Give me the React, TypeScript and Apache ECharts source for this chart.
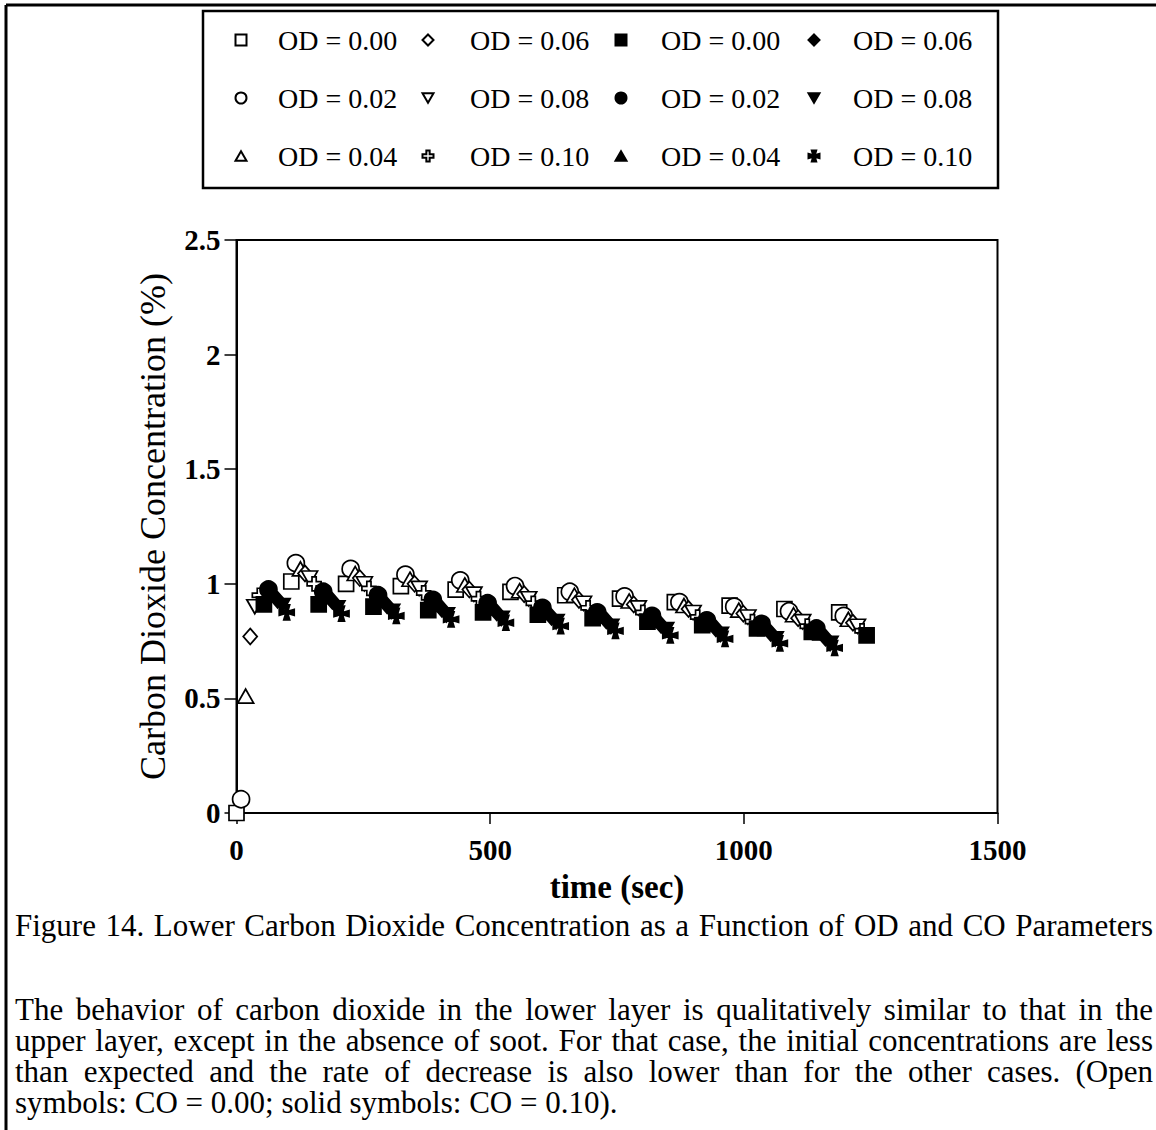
import React, { useEffect, useRef } from "react";
import * as echarts from "echarts";

// ---------- data ----------
const X_MIN = 0;
const X_MAX = 1500;
const X_STEP = 500;
const Y_MIN = 0;
const Y_MAX = 2.5;
const Y_STEP = 0.5;

// every series is sampled once per 108 s cycle, each with its own offset (s)
const CYCLE_STARTS = [0, 108, 216, 324, 432, 540, 648, 756, 864, 972, 1080, 1188];

// open symbols: CO = 0.00
const OPEN_SQUARE = [0.0, 1.01, 1.0, 0.99, 0.975, 0.965, 0.95, 0.935, 0.92, 0.905, 0.89, 0.875];
const OPEN_CIRCLE = [0.06, 1.09, 1.065, 1.04, 1.015, 0.99, 0.965, 0.945, 0.92, 0.9, 0.88, 0.86];
const OPEN_TRIANGLE = [0.51, 1.065, 1.045, 1.02, 0.995, 0.97, 0.95, 0.925, 0.905, 0.885, 0.865, 0.845];
const OPEN_DIAMOND = [0.77, 1.045, 1.025, 1.0, 0.975, 0.955, 0.93, 0.91, 0.89, 0.87, 0.85, 0.83];
const OPEN_DOWN = [0.9, 1.025, 1.0, 0.98, 0.955, 0.935, 0.915, 0.895, 0.875, 0.855, 0.835, 0.815];
const OPEN_CROSS = [0.95, 1.0, 0.98, 0.96, 0.935, 0.915, 0.895, 0.875, 0.855, 0.835, 0.815, 0.795];

// solid symbols: CO = 0.10
const SOLID_SQUARE = [0.91, 0.91, 0.9, 0.885, 0.875, 0.865, 0.85, 0.835, 0.82, 0.805, 0.79, 0.775];
const SOLID_CIRCLE = [0.975, 0.965, 0.95, 0.93, 0.915, 0.895, 0.875, 0.86, 0.84, 0.825, 0.805];
const SOLID_TRIANGLE = [0.955, 0.945, 0.93, 0.91, 0.895, 0.875, 0.86, 0.84, 0.825, 0.805, 0.785];
const SOLID_DIAMOND = [0.93, 0.925, 0.905, 0.89, 0.875, 0.855, 0.84, 0.82, 0.805, 0.785, 0.765];
const SOLID_DOWN = [0.905, 0.895, 0.88, 0.865, 0.85, 0.835, 0.815, 0.8, 0.78, 0.76, 0.74];
const SOLID_CROSS = [0.875, 0.87, 0.86, 0.845, 0.83, 0.815, 0.795, 0.775, 0.76, 0.74, 0.72];

const OFFSETS = [0, 9, 18, 27, 36, 45, 54, 63, 72, 81, 90, 99];
const LABELS = [
  "OD = 0.00", "OD = 0.02", "OD = 0.04", "OD = 0.06", "OD = 0.08", "OD = 0.10",
  "OD = 0.00", "OD = 0.02", "OD = 0.04", "OD = 0.06", "OD = 0.08", "OD = 0.10",
];

const X_NAME = "time (sec)";
const Y_NAME = "Carbon Dioxide Concentration (%)";
const FIG_TITLE = "Figure 14. Lower Carbon Dioxide Concentration as a Function of OD and CO Parameters";
const PARAGRAPH = [
  "The behavior of carbon dioxide in the lower layer is qualitatively similar to that in the",
  "upper layer, except in the absence of soot. For that case, the initial concentrations are less",
  "than expected and the rate of decrease is also lower than for the other cases. (Open",
  "symbols: CO = 0.00; solid symbols: CO = 0.10).",
];

// ---------- symbols ----------
const TRI = "path://M10,0 L20,17.3 L0,17.3 Z";
const DOWN_TRI = "path://M0,0 L20,0 L10,17.3 Z";
const GREEK_CROSS = "path://M7,0 L13,0 L13,7 L20,7 L20,13 L13,13 L13,20 L7,20 L7,13 L0,13 L0,7 L7,7 Z";
const PATTEE_CROSS = "path://M8.6,8.6 L6,0 L14,0 L11.4,8.6 L20,6 L20,14 L11.4,11.4 L14,20 L6,20 L8.6,11.4 L0,14 L0,6 Z";

const VALUES = [
  OPEN_SQUARE, OPEN_CIRCLE, OPEN_TRIANGLE, OPEN_DIAMOND, OPEN_DOWN, OPEN_CROSS,
  SOLID_SQUARE, SOLID_CIRCLE, SOLID_TRIANGLE, SOLID_DIAMOND, SOLID_DOWN, SOLID_CROSS,
];
const SYMBOLS = ["rect", "circle", TRI, "diamond", DOWN_TRI, GREEK_CROSS, "rect", "circle", TRI, "diamond", DOWN_TRI, PATTEE_CROSS];
const SIZES: any[] = [15, 17, [16, 14], [14, 16], [16, 14], 14, 15, 17, [16, 14], [14, 16], [16, 14], 15];
const KEYS = ["o0", "o2", "o4", "o6", "o8", "o10", "s0", "s2", "s4", "s6", "s8", "s10"];

// legend columns (keys)
const LEGEND_COLS = [
  ["o0", "o2", "o4"],
  ["o6", "o8", "o10"],
  ["s0", "s2", "s4"],
  ["s6", "s8", "s10"],
];

const FONT = "Liberation Serif";

let measureCtx: CanvasRenderingContext2D | null = null;
function measureWidth(text: string, font: string) {
  if (!measureCtx) measureCtx = document.createElement("canvas").getContext("2d");
  if (!measureCtx) return text.length * 14;
  measureCtx.font = font;
  return measureCtx.measureText(text).width;
}

function justifiedLine(text: string, x: number, y: number, width: number, size: number, justify: boolean) {
  const font = `${size}px "${FONT}"`;
  const style = (t: string) => ({
    text: t,
    fontFamily: FONT,
    fontSize: size,
    lineHeight: 30,
    fill: "#000",
    align: "left",
    verticalAlign: "middle",
  });
  if (!justify) {
    return [{ type: "text", x, y, silent: true, style: style(text) }];
  }
  const words = text.split(" ");
  const ws = words.map((w) => measureWidth(w, font));
  const total = ws.reduce((a, b) => a + b, 0);
  const gap = words.length > 1 ? (width - total) / (words.length - 1) : 0;
  const out: any[] = [];
  let cx = x;
  words.forEach((w, i) => {
    out.push({ type: "text", x: cx, y, silent: true, style: style(w) });
    cx += ws[i] + gap;
  });
  return out;
}

export default function App() {
  const ref = useRef<HTMLDivElement>(null);

  useEffect(() => {
    if (!ref.current) return;
    const chart = echarts.init(ref.current, undefined, { renderer: "svg" });

    const series = VALUES.map((vals, k) => ({
      name: KEYS[k],
      type: "scatter",
      symbol: SYMBOLS[k],
      symbolSize: SIZES[k],
      itemStyle: {
        color: k < 6 ? "#fff" : "#000",
        borderColor: "#000",
        borderWidth: 1.7,
        opacity: 1,
      },
      emphasis: { disabled: true },
      data: vals.map((v, i) => [CYCLE_STARTS[i] + OFFSETS[k], v]),
    }));

    const labelOf: Record<string, string> = {};
    KEYS.forEach((k, i) => (labelOf[k] = LABELS[i]));

    const colIconX = [240, 427, 620, 813];
    const colTextX = [277, 469, 660, 852];
    const iconW = 11;
    const legend = LEGEND_COLS.map((col, ci) => ({
      data: col,
      orient: "vertical",
      left: colIconX[ci] - iconW / 2,
      top: 26,
      padding: 0,
      itemWidth: iconW,
      itemHeight: iconW,
      itemGap: 30,
      selectedMode: false,
      formatter: (n: string) => labelOf[n],
      textStyle: {
        fontFamily: FONT,
        fontSize: 28,
        color: "#000",
        lineHeight: 28,
        padding: [0, 0, 0, colTextX[ci] - (colIconX[ci] - iconW / 2 + iconW + 5)],
      },
    }));

    const capSize = 31;
    const caption: any[] = [];
    caption.push(...justifiedLine(FIG_TITLE, 15, 925, 1138, capSize, true));
    const paraY = [1009, 1040, 1071, 1102];
    PARAGRAPH.forEach((ln, i) => {
      caption.push(...justifiedLine(ln, 15, paraY[i], 1138, capSize, i < PARAGRAPH.length - 1));
    });

    const axisText = { fontFamily: FONT, color: "#000" };

    chart.setOption({
      animation: false,
      backgroundColor: "#fff",
      grid: {
        left: 236.5,
        right: 1156 - 997.5,
        top: 240,
        bottom: 1130 - 813,
        show: true,
        borderColor: "#000",
        borderWidth: 2,
        outerBoundsMode: "none",
        containLabel: false,
      },
      legend,
      xAxis: {
        type: "value",
        min: X_MIN,
        max: X_MAX,
        interval: X_STEP,
        name: X_NAME,
        nameLocation: "middle",
        nameGap: 57,
        nameTextStyle: { ...axisText, fontSize: 33, fontWeight: "bold" },
        axisLine: { show: true, lineStyle: { color: "#000", width: 2 } },
        axisTick: { show: true, length: 11, lineStyle: { color: "#000", width: 1.5 } },
        axisLabel: {
          ...axisText,
          fontSize: 29,
          fontWeight: "bold",
          margin: 22,
          formatter: (v: number) => String(v),
        },
        splitLine: { show: false },
      },
      yAxis: {
        type: "value",
        min: Y_MIN,
        max: Y_MAX,
        interval: Y_STEP,
        name: Y_NAME,
        nameLocation: "middle",
        nameGap: 66,
        nameRotate: 90,
        nameTextStyle: { ...axisText, fontSize: 36 },
        axisLine: { show: true, lineStyle: { color: "#000", width: 2 } },
        axisTick: { show: true, length: 12, lineStyle: { color: "#000", width: 1.5 } },
        axisLabel: {
          ...axisText,
          fontSize: 29,
          fontWeight: "bold",
          margin: 16,
          formatter: (v: number) => String(v),
        },
        splitLine: { show: false },
      },
      graphic: [
        { type: "line", silent: true, shape: { x1: 6, y1: 5, x2: 1156, y2: 5 }, style: { stroke: "#000", lineWidth: 3 } },
        { type: "line", silent: true, shape: { x1: 6, y1: 5, x2: 6, y2: 1130 }, style: { stroke: "#000", lineWidth: 3 } },
        {
          type: "rect",
          silent: true,
          shape: { x: 203, y: 11, width: 795, height: 177 },
          style: { fill: "none", stroke: "#000", lineWidth: 2.5 },
        },
        ...caption,
      ],
      series,
    });

    return () => chart.dispose();
  }, []);

  return (
    <div
      ref={ref}
      style={{ position: "absolute", left: 0, top: 0, width: 1156, height: 1130, background: "#fff" }}
    />
  );
}
